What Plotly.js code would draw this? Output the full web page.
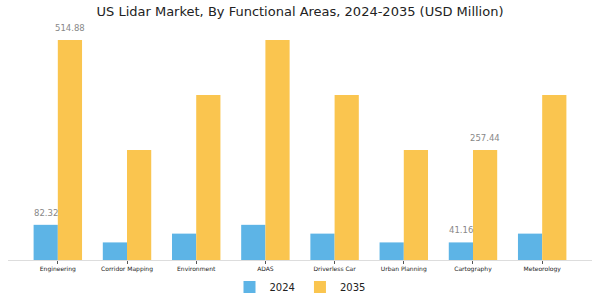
<!DOCTYPE html>
<html><head><meta charset="utf-8">
<script src="https://cdn.plot.ly/plotly-3.0.1.min.js"></script>
<style>body{margin:0;}#c{width:600px;height:300px;}</style>
</head><body><div id="c"></div>
<script>
const categories = ["Engineering","Corridor Mapping","Environment","ADAS","Driverless Car","Urban Planning","Cartography","Meteorology"];
const values2024 = [82.32,41.16,61.74,82.32,61.74,41.16,41.16,61.74];
const values2035 = [514.88,257.44,386.16,514.88,386.16,257.44,257.44,386.16];
const labelled = [{i:0, s:"2024"},{i:0, s:"2035"},{i:6, s:"2024"},{i:6, s:"2035"}];

const traces = [
  {type:"bar", name:"2024", x:categories.map((c,i)=>i), y:values2024, marker:{color:"#5db4e6"}, hoverinfo:"y"},
  {type:"bar", name:"2035", x:categories.map((c,i)=>i), y:values2035, marker:{color:"#fac54f"}, hoverinfo:"y"}
];
const ymax = 514.88*230/220;
const annotations = labelled.map(l=>{
  const v = l.s==="2024" ? values2024[l.i] : values2035[l.i];
  return {x:l.i + (l.s==="2024" ? -0.175 : 0.175), y:v, xref:"x", yref:"y", text:v.toFixed(2),
    showarrow:false, yanchor:"bottom", yshift:5, font:{family:"DejaVu Sans", size:8.5, color:"#888888"}};
});
const layout = {
  width:600, height:300,
  margin:{l:8, r:8, t:30, b:40, autoexpand:false},
  paper_bgcolor:"#ffffff", plot_bgcolor:"#ffffff",
  title:{text:"US Lidar Market, By Functional Areas, 2024-2035 (USD Million)", x:0.5, xanchor:"center", y:0.962, yanchor:"middle",
    font:{family:"DejaVu Sans", size:13, color:"#222222"}},
  barmode:"group", bargap:0.3, bargroupgap:0,
  xaxis:{range:[-0.72,7.72], tickmode:"array", tickvals:categories.map((c,i)=>i), ticktext:categories,
    tickfont:{family:"DejaVu Sans", size:6, color:"#222222"}, showline:true, linecolor:"#dddddd", linewidth:1,
    ticks:"outside", ticklen:3, tickcolor:"#555555", showgrid:false, zeroline:false, fixedrange:true, automargin:false},
  yaxis:{range:[0, ymax], visible:false, showgrid:false, zeroline:false, fixedrange:true},
  showlegend:true,
  legend:{orientation:"h", x:0.5, xanchor:"center", yref:"container", y:0.043, yanchor:"middle",
    font:{family:"DejaVu Sans", size:10, color:"#222222"}},
  annotations:annotations
};
Plotly.newPlot("c", traces, layout, {displayModeBar:false, staticPlot:true});
</script></body></html>
